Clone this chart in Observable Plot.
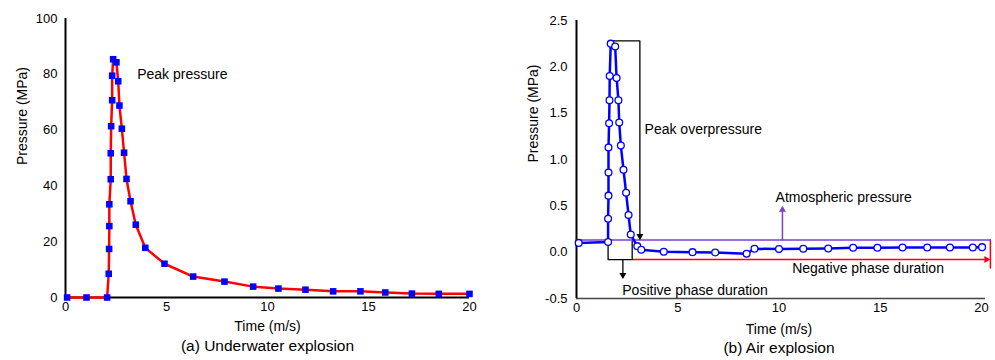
<!DOCTYPE html>
<html><head><meta charset="utf-8">
<script src="https://cdn.jsdelivr.net/npm/d3@7"></script>
<script src="https://cdn.jsdelivr.net/npm/@observablehq/plot@0.6"></script>
<style>
body{margin:0;background:#fff;font-family:"Liberation Sans",Arial,sans-serif;}
#wrap{position:relative;width:995px;height:360px;overflow:hidden;}
#a{position:absolute;left:0;top:0}
#b{position:absolute;left:497px;top:0}
</style></head><body><div id="wrap"><div id="a"></div><div id="b"></div></div>
<script>
// ---------- (a) Underwater explosion ----------
const underwaterTime = [0.08, 1.04, 2.06, 2.14, 2.16, 2.17, 2.17, 2.24, 2.24, 2.26, 2.31, 2.31, 2.36, 2.52, 2.61, 2.67, 2.79, 2.9, 3.02, 3.22, 3.48, 3.95, 4.9, 6.32, 7.87, 9.29, 10.54, 11.88, 13.25, 14.6, 15.83, 17.15, 18.48, 20.0];
const underwaterPressure = [0, 0, 0, 8.5, 17.4, 25.6, 33.4, 42.4, 51.7, 61.4, 70.7, 79.5, 85.4, 84.3, 77.5, 68.8, 60.5, 51.9, 42.5, 34.5, 26.1, 17.8, 12.1, 7.5, 5.7, 3.9, 3.2, 2.8, 2.2, 2.2, 1.8, 1.4, 1.3, 1.3];
const xTicksA = [0, 5, 10, 15, 20];
const yTicksA = [0, 20, 40, 60, 80, 100];
const peakLabelA = [{t: 3.55, p: 80, text: "Peak pressure"}];

// ---------- (b) Air explosion ----------
const airTime = [0.11, 1.56, 1.56, 1.58, 1.58, 1.58, 1.61, 1.63, 1.64, 1.69, 1.91, 1.98, 2.07, 2.11, 2.19, 2.32, 2.45, 2.57, 2.68, 3.0, 3.2, 4.31, 5.73, 6.85, 8.4, 8.79, 10.0, 11.2, 12.43, 13.66, 14.86, 16.1, 17.32, 18.44, 19.57, 20.03];
const airPressure = [0.1, 0.11, 0.36, 0.61, 0.86, 1.13, 1.39, 1.64, 1.9, 2.25, 2.22, 1.88, 1.64, 1.40, 1.15, 0.89, 0.64, 0.40, 0.19, 0.065, 0.026, 0.004, 0.0, -0.003, -0.017, 0.037, 0.033, 0.037, 0.04, 0.047, 0.047, 0.05, 0.05, 0.05, 0.05, 0.054];
const xTicksB = [0, 5, 10, 15, 20];
const yTicksB = [-0.5, 0, 0.5, 1.0, 1.5, 2.0, 2.5];
// annotation geometry in data units (time, pressure)
const atmosphericLine = [[0, 0.13], [20.44, 0.13]];
const peakBracket = [[1.69, 2.28], [3.13, 2.28], [3.13, 0.15]];
const peakArrowTip = [[3.13, 0.13]];
const positiveBracket = [[1.56, 0.12], [1.56, -0.08], [2.75, -0.08], [2.75, 0.12]];
const positiveArrow = [[2.29, -0.08], [2.29, -0.27]];
const positiveArrowTip = [[2.29, -0.29]];
const negativeLine = [[2.75, -0.08], [20.3, -0.08]];
const negativeArrowTip = [[20.44, -0.08]];
const negativeEnd = [[20.44, 0.13], [20.44, -0.17]];
const atmosArrow = [[10.17, 0.13], [10.17, 0.47]];
const atmosArrowTip = [[10.17, 0.5]];
const labelsB = [
  {t: 3.36, p: 1.32, text: "Peak overpressure"},
  {t: 9.83, p: 0.59, text: "Atmospheric pressure"},
  {t: 10.65, p: -0.176, text: "Negative phase duration"},
  {t: 2.26, p: -0.41, text: "Positive phase duration"}
];

const FONT = '"Liberation Sans", Arial, sans-serif';
const style = {fontFamily: FONT, fontSize: "13px", color: "#000", background: "transparent", overflow: "visible"};

const A = underwaterTime.map((t, i) => ({t, p: underwaterPressure[i]}));
const B = airTime.map((t, i) => ({t, p: airPressure[i]}));
const pts = arr => arr.map(([t, p]) => ({t, p}));

const plotA = Plot.plot({
  width: 497, height: 360,
  marginLeft: 65, marginRight: 28, marginTop: 18, marginBottom: 63,
  style,
  x: {domain: [0, 20]},
  y: {domain: [0, 100]},
  marks: [
    Plot.axisX({ticks: xTicksA, tickSize: 0, tickPadding: 4, label: null}),
    Plot.axisY({ticks: yTicksA, tickSize: 0, tickPadding: 8, label: null}),
    Plot.ruleX([0], {stroke: "#000", strokeWidth: 2}),
    Plot.ruleY([0], {stroke: "#000", strokeWidth: 2}),
    Plot.line(A, {x: "t", y: "p", stroke: "#ff0000", strokeWidth: 2.5}),
    Plot.dot(A, {x: "t", y: "p", symbol: "square", r: 3.7, fill: "#0000ff"}),
    Plot.text(peakLabelA, {x: "t", y: "p", text: "text", textAnchor: "start", fontSize: 14}),
    Plot.text(["Pressure (MPa)"], {frameAnchor: "left", rotate: -90, dx: -43, dy: 7, fontSize: 14}),
    Plot.text(["Time (m/s)"], {frameAnchor: "bottom", dy: 33, fontSize: 14}),
    Plot.text(["(a) Underwater explosion"], {frameAnchor: "bottom", dy: 53, fontSize: 15.5})
  ]
});
document.getElementById("a").append(plotA);

const purple = "#7b3fd6";
const plotB = Plot.plot({
  width: 498, height: 360,
  marginLeft: 79, marginRight: 14, marginTop: 20, marginBottom: 62,
  style,
  x: {domain: [0, 20]},
  y: {domain: [-0.5, 2.5]},
  marks: [
    Plot.axisX({ticks: xTicksB, tickSize: 0, tickPadding: 4, label: null}),
    Plot.axisY({ticks: yTicksB, tickSize: 0, tickPadding: 9, label: null, tickFormat: d => d.toFixed(1)}),
    Plot.ruleY([-0.5], {x1: 0, x2: 20.2, stroke: "#444", strokeWidth: 1.5}),
    Plot.ruleX([0], {stroke: "#000", strokeWidth: 2}),
    // negative phase (red)
    Plot.line(pts(negativeLine), {x: "t", y: "p", stroke: "#ff0000", strokeWidth: 1.5}),
    Plot.line(pts(negativeEnd), {x: "t", y: "p", stroke: "#ff0000", strokeWidth: 1.5}),
    Plot.dot(pts(negativeArrowTip), {x: "t", y: "p", symbol: "triangle", rotate: 90, r: 2.6, fill: "#ff0000", dx: -4}),
    // atmospheric pressure (purple)
    Plot.line(pts(atmosphericLine), {x: "t", y: "p", stroke: purple, strokeWidth: 1.5}),
    Plot.line(pts(atmosArrow), {x: "t", y: "p", stroke: purple, strokeWidth: 1.5}),
    Plot.dot(pts(atmosArrowTip), {x: "t", y: "p", symbol: "triangle", r: 2.6, fill: purple, dy: 4}),
    // peak overpressure (black)
    Plot.line(pts(peakBracket), {x: "t", y: "p", stroke: "#000", strokeWidth: 1.3}),
    Plot.dot(pts(peakArrowTip), {x: "t", y: "p", symbol: "triangle", rotate: 180, r: 2.6, fill: "#000", dy: -4}),
    // positive phase (black)
    Plot.line(pts(positiveBracket), {x: "t", y: "p", stroke: "#000", strokeWidth: 1.3}),
    Plot.line(pts(positiveArrow), {x: "t", y: "p", stroke: "#000", strokeWidth: 1.3}),
    Plot.dot(pts(positiveArrowTip), {x: "t", y: "p", symbol: "triangle", rotate: 180, r: 2.6, fill: "#000", dy: -4}),
    // data
    Plot.line(B, {x: "t", y: "p", stroke: "#0000ff", strokeWidth: 2.5}),
    Plot.dot(B, {x: "t", y: "p", r: 3.4, fill: "#fff", stroke: "#0000ff", strokeWidth: 1.3}),
    Plot.text(labelsB, {x: "t", y: "p", text: "text", textAnchor: "start", fontSize: 14}),
    Plot.text(["Pressure (MPa)"], {frameAnchor: "left", rotate: -90, dx: -43, dy: 3, fontSize: 14}),
    Plot.text(["Time (m/s)"], {frameAnchor: "bottom", dy: 35, fontSize: 14}),
    Plot.text(["(b) Air explosion"], {frameAnchor: "bottom", dy: 54, fontSize: 15.5})
  ]
});
document.getElementById("b").append(plotB);
</script>
</body></html>
